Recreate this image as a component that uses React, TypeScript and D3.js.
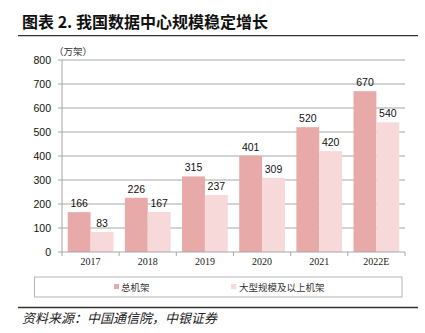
import React from "react";
import * as d3 from "d3";

const years = ["2017", "2018", "2019", "2020", "2021", "2022E"];
const totalRacks = [166, 226, 315, 401, 520, 670];
const largeRacks = [83, 167, 237, 309, 420, 540];
const yTicks = [0, 100, 200, 300, 400, 500, 600, 700, 800];
const seriesNames = ["总机架", "大型规模及以上机架"];
const seriesColors = ["#e8a9a9", "#f7d9d9"];

const W = 425;
const H = 333;

export default function App() {
  const x0 = d3.scaleBand<string>().domain(years).range([62, 405]).paddingInner(0).paddingOuter(0);
  const x1 = d3
    .scaleBand<string>()
    .domain(["total", "large"])
    .range([0, x0.bandwidth()])
    .paddingInner(0)
    .paddingOuter(0.25);
  const y = d3.scaleLinear().domain([0, 800]).range([252, 60]);
  const series = [totalRacks, largeRacks];
  const keys = ["total", "large"];
  const sans = "'Liberation Sans', Arial, sans-serif";
  const serif = "'Liberation Serif', 'Times New Roman', serif";
  const cjk = "'Noto Sans CJK SC', sans-serif";
  const boundaries = years.map((yr) => x0(yr) as number).concat([405]);

  return (
    <svg width={W} height={H} style={{ position: "absolute", left: 0, top: 0, background: "#fff" }}>
      {/* title */}
      <text x={22} y={28} fontFamily={cjk} fontWeight="bold" fontSize={16} fill="#111">
        图表 2. 我国数据中心规模稳定增长
      </text>
      <line x1={18} x2={418} y1={35.7} y2={35.7} stroke="#333" strokeWidth={1.3} />

      {/* unit */}
      <text x={54} y={55} fontFamily={cjk} fontSize={9.5} fill="#333">
        （万架）
      </text>

      {/* gridlines & y ticks */}
      {yTicks.map((t) => (
        <g key={t}>
          {t > 0 && (
            <line x1={62} x2={405} y1={y(t)} y2={y(t)} stroke="#a8a8a8" strokeWidth={1} />
          )}
          <line x1={58} x2={62} y1={y(t)} y2={y(t)} stroke="#a8a8a8" strokeWidth={1} />
          <text x={51} y={y(t)} dy="0.35em" textAnchor="end" fontFamily={sans} fontSize={10.5} fill="#111">
            {t}
          </text>
        </g>
      ))}
      <line x1={62} x2={62} y1={y(800)} y2={y(0)} stroke="#a8a8a8" strokeWidth={1} />

      {/* bars */}
      {years.map((yr, i) => (
        <g key={yr} transform={`translate(${x0(yr)},0)`}>
          {series.map((vals, s) => {
            const bx = x1(keys[s]) as number;
            const bw = x1.bandwidth();
            return (
              <g key={s}>
                <rect x={bx} y={y(vals[i])} width={bw} height={y(0) - y(vals[i])} fill={seriesColors[s]} />
                <text
                  x={bx + bw / 2}
                  y={y(vals[i]) - 5}
                  textAnchor="middle"
                  fontFamily={sans}
                  fontSize={10.5}
                  fill="#111"
                >
                  {vals[i]}
                </text>
              </g>
            );
          })}
        </g>
      ))}

      {/* x axis */}
      <line x1={62} x2={405} y1={y(0)} y2={y(0)} stroke="#a8a8a8" strokeWidth={1} />
      {boundaries.map((bx, i) => (
        <line key={i} x1={bx} x2={bx} y1={y(0)} y2={y(0) + 4} stroke="#a8a8a8" strokeWidth={1} />
      ))}
      {years.map((yr) => (
        <text
          key={yr}
          x={(x0(yr) as number) + x0.bandwidth() / 2}
          y={265}
          textAnchor="middle"
          fontFamily={serif}
          fontSize={10}
          fill="#222"
        >
          {yr}
        </text>
      ))}

      {/* legend */}
      <rect x={34.5} y={277} width={367.5} height={20} fill="none" stroke="#b5b5b5" strokeWidth={1} />
      <rect x={114} y={284} width={5} height={5} fill={seriesColors[0]} />
      <text x={121} y={290.5} fontFamily={cjk} fontSize={9.5} fill="#333">
        {seriesNames[0]}
      </text>
      <rect x={231} y={284} width={5} height={5} fill={seriesColors[1]} />
      <text x={239} y={290.5} fontFamily={cjk} fontSize={9.5} fill="#333">
        {seriesNames[1]}
      </text>

      {/* source */}
      <line x1={18} x2={418} y1={307.5} y2={307.5} stroke="#333" strokeWidth={1.3} />
      <text x={22} y={323} fontFamily={cjk} fontStyle="italic" fontSize={13} fill="#222">
        资料来源：中国通信院，中银证券
      </text>
    </svg>
  );
}
